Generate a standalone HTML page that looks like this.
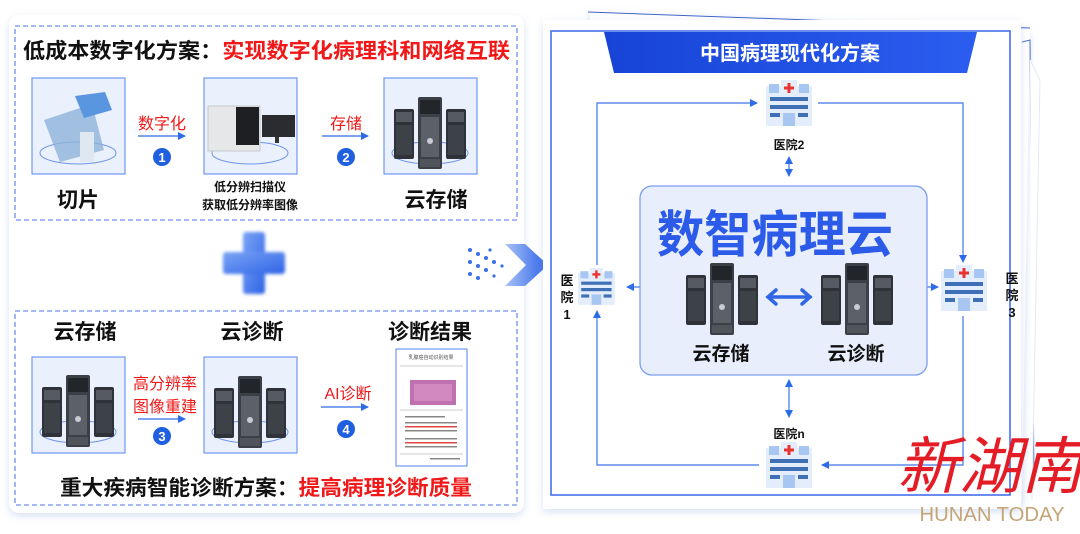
<!DOCTYPE html>
<html><head><meta charset="utf-8"><style>
html,body{margin:0;padding:0;background:#fff;}
body{width:1080px;height:529px;overflow:hidden;}
svg text{font-family:"Liberation Sans","Noto Sans CJK SC",sans-serif;}
</style></head><body>
<svg width="1080" height="529" viewBox="0 0 1080 529" xmlns="http://www.w3.org/2000/svg">
<defs>
 <filter id="sh" x="-5%" y="-5%" width="110%" height="110%"><feDropShadow dx="0" dy="3" stdDeviation="4" flood-color="#8fa8e0" flood-opacity="0.35"/></filter>
 <filter id="bl"><feGaussianBlur stdDeviation="1.5"/></filter>
 <linearGradient id="pl" x1="0" y1="0" x2="1" y2="1"><stop offset="0" stop-color="#7aa4f5"/><stop offset="1" stop-color="#2f64e6"/></linearGradient>
 <linearGradient id="hd" x1="0" y1="0" x2="1" y2="0"><stop offset="0" stop-color="#1744d6"/><stop offset="1" stop-color="#2b5df0"/></linearGradient>
 <linearGradient id="ch" x1="0" y1="0" x2="1" y2="0"><stop offset="0" stop-color="#a9c3f7"/><stop offset="1" stop-color="#2d62e8"/></linearGradient>
 <marker id="ar" markerWidth="8" markerHeight="8" refX="7" refY="4" orient="auto-start-reverse" markerUnits="userSpaceOnUse"><path d="M0,0 L8,4 L0,8 z" fill="#2d6be8"/></marker>
 <g id="srv">
  <rect x="-36" y="12" width="20" height="50" rx="2" fill="#2f3238"/><rect x="-34" y="15" width="16" height="10" fill="#555a63"/><rect x="-34" y="28" width="16" height="30" fill="#3d4148"/>
  <rect x="16" y="12" width="20" height="50" rx="2" fill="#2f3238"/><rect x="18" y="15" width="16" height="10" fill="#555a63"/><rect x="18" y="28" width="16" height="30" fill="#3d4148"/>
  <rect x="-12" y="0" width="24" height="72" rx="2" fill="#3b3f46"/><rect x="-10" y="3" width="20" height="14" fill="#22252a"/>
  <rect x="-9" y="20" width="18" height="40" fill="#5b6069"/><circle cx="0" cy="44" r="3" fill="#c8ccd2"/>
  <rect x="-10" y="62" width="20" height="8" fill="#50545b"/>
 </g>
 <g id="hos">
  <rect x="0" y="6" width="46" height="40" fill="#e3edfb"/>
  <rect x="15" y="0" width="16" height="14" fill="#e3edfb"/>
  <rect x="3" y="4" width="10" height="9" fill="#a8c6f2"/><rect x="33" y="4" width="10" height="9" fill="#a8c6f2"/>
  <rect x="21.5" y="3" width="3" height="10" fill="#e8332f"/><rect x="18" y="6.5" width="10" height="3" fill="#e8332f"/>
  <rect x="4" y="17" width="38" height="4" fill="#3f70b5"/><rect x="4" y="25" width="38" height="4" fill="#3f70b5"/>
  <rect x="4" y="33" width="10" height="4" fill="#3f70b5"/><rect x="32" y="33" width="10" height="4" fill="#3f70b5"/>
  <rect x="17" y="33" width="12" height="13" fill="#a8c6f2"/>
 </g>
</defs>

<!-- LEFT CARD -->
<rect x="9" y="15" width="515" height="498" rx="10" fill="#fff" filter="url(#sh)"/>
<rect x="15" y="26" width="502" height="194" fill="none" stroke="#6d8ff0" stroke-width="1.3" stroke-dasharray="5,3"/>
<text x="23" y="58" font-size="21" font-weight="bold" fill="#111" textLength="487" lengthAdjust="spacingAndGlyphs">低成本数字化方案：<tspan fill="#f01818">实现数字化病理科和网络互联</tspan></text>

<g stroke="#6e98f5" stroke-width="1.2" fill="#eaf1fd">
 <rect x="32" y="78" width="93" height="96"/><rect x="204" y="78" width="93" height="96"/><rect x="384" y="78" width="93" height="96"/>
 <rect x="32" y="357" width="93" height="96"/><rect x="204" y="357" width="93" height="96"/>
</g>
<g fill="none" stroke="#6f95ea" stroke-width="1"><ellipse cx="78" cy="153" rx="38" ry="11"/><ellipse cx="250" cy="153" rx="38" ry="11"/><ellipse cx="430" cy="153" rx="38" ry="11"/><ellipse cx="78" cy="432" rx="38" ry="11"/><ellipse cx="250" cy="432" rx="38" ry="11"/></g>
<path d="M44 120 L92 104 L104 150 L60 162 Z" fill="#8fb3d9" opacity="0.8"/>
<path d="M75 96 L105 92 L112 110 L84 118 Z" fill="#5a95e0"/>
<rect x="80" y="132" width="14" height="30" fill="#dfe7f1"/>
<rect x="208" y="106" width="52" height="45" fill="#e6e7e9" stroke="#c5c7cc"/><rect x="236" y="107" width="23" height="38" fill="#1d1f22"/><rect x="262" y="115" width="33" height="22" fill="#2a2c30"/><rect x="275" y="137" width="4" height="6" fill="#333"/>
<use href="#srv" x="430" y="97"/>
<text x="162" y="129" font-size="16" fill="#f01818" text-anchor="middle">数字化</text>
<line x1="138" y1="136" x2="185" y2="136" stroke="#2d6be8" stroke-width="1.3" marker-end="url(#ar)"/>
<circle cx="162" cy="157" r="9" fill="#1f5fe0"/><text x="162" y="162" font-size="13" fill="#fff" text-anchor="middle" font-weight="bold">1</text>
<text x="346" y="129" font-size="16" fill="#f01818" text-anchor="middle">存储</text>
<line x1="322" y1="136" x2="368" y2="136" stroke="#2d6be8" stroke-width="1.3" marker-end="url(#ar)"/>
<circle cx="346" cy="157" r="9" fill="#1f5fe0"/><text x="346" y="162" font-size="13" fill="#fff" text-anchor="middle" font-weight="bold">2</text>
<text x="78" y="207" font-size="21" font-weight="bold" fill="#111" text-anchor="middle">切片</text>
<text x="250" y="191" font-size="12" font-weight="bold" fill="#111" text-anchor="middle">低分辨扫描仪</text>
<text x="250" y="209" font-size="12" font-weight="bold" fill="#111" text-anchor="middle">获取低分辨率图像</text>
<text x="436" y="207" font-size="21" font-weight="bold" fill="#111" text-anchor="middle">云存储</text>

<g filter="url(#bl)" fill="url(#pl)"><rect x="243" y="232" width="22" height="62" rx="3"/><rect x="223" y="252" width="62" height="22" rx="3"/></g>
<g fill="#3b6fe8">
 <circle cx="470" cy="250" r="2"/><circle cx="478" cy="254" r="2"/><circle cx="486" cy="258" r="2"/><circle cx="494" cy="262" r="2"/><circle cx="470" cy="262" r="2"/><circle cx="478" cy="266" r="2"/><circle cx="486" cy="270" r="2"/><circle cx="470" cy="274" r="2"/><circle cx="478" cy="278" r="2"/><circle cx="490" cy="250" r="1.6"/><circle cx="502" cy="266" r="1.6"/><circle cx="494" cy="276" r="1.6"/>
</g>
<path d="M505 244 L525 244 L548 265 L525 286 L505 286 L526 265 Z" fill="url(#ch)"/>

<rect x="15" y="311" width="502" height="194" fill="none" stroke="#6d8ff0" stroke-width="1.3" stroke-dasharray="5,3"/>
<text x="85" y="339" font-size="21" font-weight="bold" fill="#111" text-anchor="middle">云存储</text>
<text x="252" y="339" font-size="21" font-weight="bold" fill="#111" text-anchor="middle">云诊断</text>
<text x="430" y="339" font-size="21" font-weight="bold" fill="#111" text-anchor="middle">诊断结果</text>
<use href="#srv" x="78" y="375"/>
<use href="#srv" x="250" y="376"/>
<text x="165" y="389" font-size="16" fill="#f01818" text-anchor="middle">高分辨率</text>
<text x="165" y="412" font-size="16" fill="#f01818" text-anchor="middle">图像重建</text>
<line x1="138" y1="419" x2="185" y2="419" stroke="#2d6be8" stroke-width="1.3" marker-end="url(#ar)"/>
<circle cx="162" cy="436" r="9" fill="#1f5fe0"/><text x="162" y="441" font-size="13" fill="#fff" text-anchor="middle" font-weight="bold">3</text>
<text x="348" y="399" font-size="16" fill="#f01818" text-anchor="middle">AI诊断</text>
<line x1="321" y1="407" x2="368" y2="407" stroke="#2d6be8" stroke-width="1.3" marker-end="url(#ar)"/>
<circle cx="346" cy="429" r="9" fill="#1f5fe0"/><text x="346" y="434" font-size="13" fill="#fff" text-anchor="middle" font-weight="bold">4</text>
<rect x="396" y="349" width="71" height="117" fill="#fff" stroke="#6e98f5" stroke-width="1.2"/>
<text x="431" y="359" font-size="5" fill="#555" text-anchor="middle">乳腺癌自动识别结果</text>
<rect x="410" y="380" width="46" height="25" fill="#c070b0"/><rect x="414" y="384" width="38" height="17" fill="#d894c8" opacity="0.7"/>
<g stroke="#999" stroke-width="0.6"><line x1="400" y1="366" x2="463" y2="366"/><line x1="400" y1="410" x2="463" y2="410"/><line x1="400" y1="454" x2="463" y2="454"/></g>
<g fill="#888"><rect x="405" y="416" width="40" height="1.5"/><rect x="405" y="422" width="52" height="1.5"/><rect x="405" y="430" width="52" height="1.5"/><rect x="405" y="438" width="52" height="1.5"/><rect x="405" y="446" width="52" height="1.5"/><rect x="430" y="458" width="30" height="1.5"/></g>
<g fill="#e04848"><rect x="405" y="426" width="52" height="1.5"/><rect x="405" y="442" width="52" height="1.5"/></g>
<text x="60" y="495" font-size="21" font-weight="bold" fill="#111" textLength="412" lengthAdjust="spacingAndGlyphs">重大疾病智能诊断方案：<tspan fill="#f01818">提高病理诊断质量</tspan></text>

<!-- RIGHT -->
<path d="M590 10 L1030 30 L1022 500 L585 490 Z" fill="#fff" filter="url(#sh)"/>
<path d="M588 12 L1030 28" stroke="#3d63c8" stroke-width="1"/>
<path d="M1022 42 L1030 40 L1034 480" fill="none" stroke="#4b6fd0" stroke-width="1"/>
<path d="M1030 60 L1040 80 L1032 500" fill="#fff" stroke="#e4e9f4"/>
<rect x="543" y="20" width="478" height="489" fill="#fff" filter="url(#sh)"/>
<rect x="551" y="31" width="459" height="464" fill="none" stroke="#3a67ea" stroke-width="1.5"/>
<path d="M604 32 L977 32 L967 73 L614 73 Z" fill="url(#hd)"/>
<text x="790" y="60" font-size="20" font-weight="bold" fill="#fff" text-anchor="middle">中国病理现代化方案</text>

<g fill="none" stroke="#3f74e8" stroke-width="1.2">
 <polyline points="597,265 597,103 757,103" marker-end="url(#ar)"/>
 <polyline points="818,103 963,103 963,262" marker-end="url(#ar)"/>
 <polyline points="963,316 963,465 822,465" marker-end="url(#ar)"/>
 <polyline points="759,465 597,465 597,311" marker-end="url(#ar)"/>
 <line x1="789" y1="157" x2="789" y2="176" marker-start="url(#ar)" marker-end="url(#ar)"/>
 <line x1="789" y1="380" x2="789" y2="417" marker-start="url(#ar)" marker-end="url(#ar)"/>
 <line x1="685" y1="287" x2="627" y2="287" marker-end="url(#ar)"/>
 <line x1="895" y1="287" x2="938" y2="287" marker-end="url(#ar)"/>
</g>
<use href="#hos" x="766" y="80"/>
<use href="#hos" x="578" y="268" transform="translate(578,268) scale(0.8) translate(-578,-268)"/>
<use href="#hos" x="941" y="265"/>
<use href="#hos" x="766" y="442"/>
<text x="789" y="149" font-size="12" font-weight="bold" fill="#111" text-anchor="middle">医院2</text>
<text x="789" y="438" font-size="12" font-weight="bold" fill="#111" text-anchor="middle">医院n</text>
<g font-size="13" font-weight="bold" fill="#111" text-anchor="middle"><text x="567" y="285">医</text><text x="567" y="302">院</text><text x="567" y="319">1</text>
<text x="1012" y="283">医</text><text x="1012" y="300">院</text><text x="1012" y="317">3</text></g>

<rect x="640" y="186" width="287" height="189" rx="12" fill="#e8eefb" stroke="#7b9df0" stroke-width="1.3"/>
<text x="775" y="252" font-size="50" font-weight="bold" fill="#2b5be8" text-anchor="middle" textLength="236" lengthAdjust="spacingAndGlyphs">数智病理云</text>
<use href="#srv" x="722" y="263"/>
<use href="#srv" x="857" y="263"/>
<g stroke="#2f66e6" stroke-width="3.5" fill="none" stroke-linecap="round"><line x1="768" y1="297" x2="810" y2="297"/><polyline points="776,290 768,297 776,304"/><polyline points="802,290 810,297 802,304"/></g>
<text x="721" y="360" font-size="19" font-weight="bold" fill="#111" text-anchor="middle">云存储</text>
<text x="856" y="360" font-size="19" font-weight="bold" fill="#111" text-anchor="middle">云诊断</text>

<text x="990" y="488" font-size="62" fill="#e41c25" text-anchor="middle" font-family="Noto Serif CJK SC, serif" font-style="italic">新湖南</text>
<text x="992" y="521" font-size="20" fill="#c4a576" text-anchor="middle" textLength="145" lengthAdjust="spacingAndGlyphs">HUNAN TODAY</text>
</svg>
</body></html>
